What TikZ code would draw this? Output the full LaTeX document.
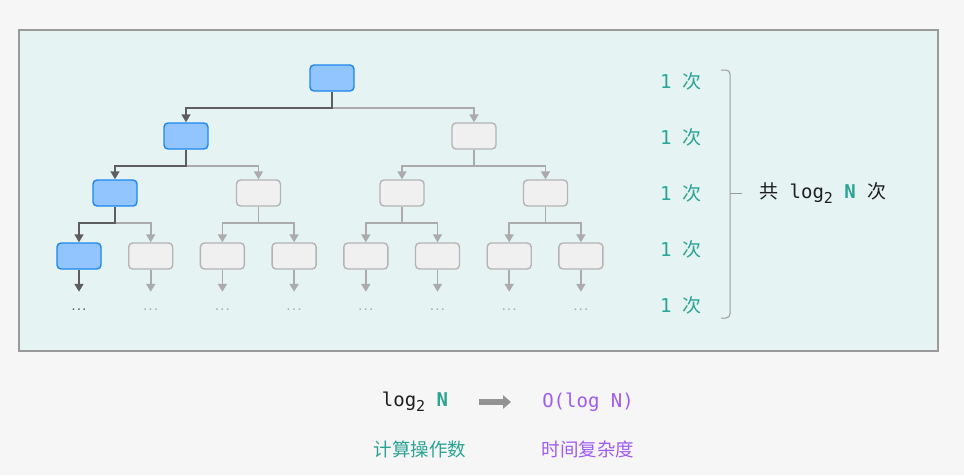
\documentclass[tikz,border=0pt]{standalone}
\usepackage{fontspec}
\setmonofont{DejaVu Sans Mono}
\newfontfamily\cjk{Noto Sans CJK SC}
\usetikzlibrary{arrows.meta}
\definecolor{outerbg}{HTML}{F6F6F6}
\definecolor{panelbg}{HTML}{E5F3F3}
\definecolor{panelline}{HTML}{9A9A9A}
\definecolor{hotfill}{HTML}{92C5FE}
\definecolor{hotline}{HTML}{1E86EC}
\definecolor{coldfill}{HTML}{F0F0F0}
\definecolor{coldline}{HTML}{B4B4B4}
\definecolor{hotedge}{HTML}{5E5E5E}
\definecolor{coldedge}{HTML}{ABABAB}
\definecolor{tl}{HTML}{2BA395}
\definecolor{pp}{HTML}{A05CF2}
\definecolor{ink}{HTML}{1F1F1F}

\begin{document}
\begin{tikzpicture}[x=1pt,y=-1pt,
	box/.style={rounded corners=4pt,line width=1.4pt,minimum width=44pt,minimum height=26pt,inner sep=0pt},
	hot/.style={box,draw=hotline,fill=hotfill},
	cold/.style={box,draw=coldline,fill=coldfill},
	hotedge/.style={draw=hotedge,line width=1.7pt,-{Triangle[width=9pt,length=8pt]}},
	coldedge/.style={draw=coldedge,line width=1.7pt,-{Triangle[width=9pt,length=8pt]}},
	dots/.style={font=\ttfamily\bfseries\fontsize{9}{9}\selectfont,minimum height=36pt,inner sep=0pt},
	mono/.style={font=\ttfamily\fontsize{19}{23}\selectfont,inner sep=0pt}]
	\fill[outerbg] (0,0) rectangle (964,475);
	\useasboundingbox (0,0) rectangle (964,475);
	\filldraw[fill=panelbg,draw=panelline,line width=1.2pt] (19,30) rectangle (938,351);
	% tree
	\node[hot] (r) at (332,78) {};
	\node[hot] (a1) at (186,136) {};
	\node[cold] (a2) at (474,136) {};
	\foreach \s [count=\i] in {hot,cold,cold,cold}
	\node[\s] (b\i) at ({115+143.5*(\i-1)},193) {};
	\foreach \s [count=\i] in {hot,cold,cold,cold,cold,cold,cold,cold}
	\node[\s] (c\i) at ({79+71.7*(\i-1)},256) {};
	\foreach \s [count=\i] in {hotedge,coldedge,coldedge,coldedge,coldedge,coldedge,coldedge,coldedge}
	\node[dots,text=\s] (d\i) at ({79+71.7*(\i-1)},310) {...};
	% edges, grey first
	\foreach \p/\c in {r/a2,a1/b2,a2/b3,a2/b4,b1/c2,b2/c3,b2/c4,b3/c5,b3/c6,b4/c7,b4/c8}
	\draw[coldedge] (\p.south) -- ++(0,16) -| (\c.north);
	\foreach \i in {2,...,8}
	\draw[coldedge] (c\i.south) -- (d\i.north);
	\foreach \p/\c in {r/a1,a1/b1,b1/c1}
	\draw[hotedge] (\p.south) -- ++(0,16) -| (\c.north);
	\draw[hotedge] (c1.south) -- (d1.north);
	% counts
	\foreach \y [count=\i] in {81,137,193,249,305}
	\node[mono,text=tl] (n\i) at (681,\y) {1 {\cjk 次}};
	\draw[panelline,line width=1pt,rounded corners=4pt] (721,70) -- (730,70) -- (730,318) -- (721,318);
	\draw[panelline,line width=1pt] (730,193) -- (742,193);
	\node[mono,text=ink,anchor=west] (total) at (759,193)
	{{\cjk 共} log\raisebox{-5pt}{\fontsize{15}{15}\selectfont 2} {\color{tl}\bfseries N} {\cjk 次}};
	% bottom
	\node[mono,text=ink] (ops) at (415,402) {log\raisebox{-5pt}{\fontsize{15}{15}\selectfont 2} {\color{tl}\bfseries N}};
	\node[mono,text=pp] (big) at (588,402) {O(log N)};
	\draw[draw=gray!85,line width=5.5pt,-{Triangle[width=13pt,length=8pt]},shorten <=31pt,shorten >=31pt] (ops.east) -- (big.west);
	\node[text=tl,font=\cjk\fontsize{18.5}{22}\selectfont,inner sep=0pt] (opsname) at (420,449) {计算操作数};
	\node[text=pp,font=\cjk\fontsize{18.5}{22}\selectfont,inner sep=0pt] (bigname) at (588,449) {时间复杂度};
\end{tikzpicture}
\end{document}
